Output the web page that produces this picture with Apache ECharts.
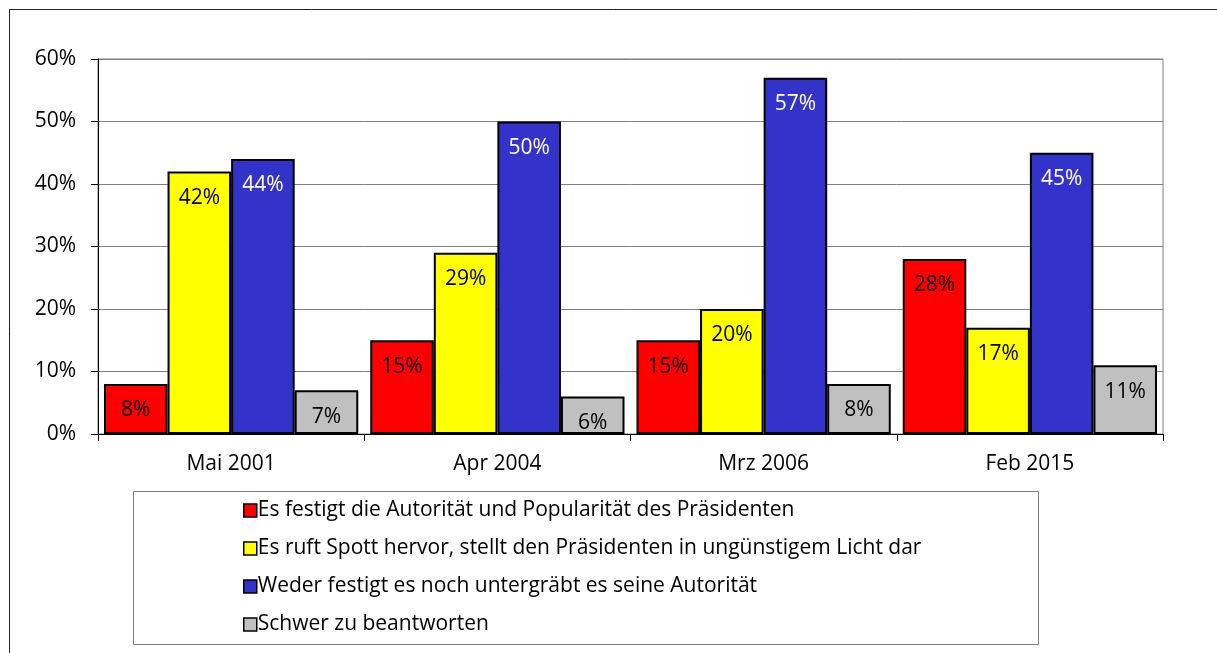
<!DOCTYPE html>
<html>
<head>
<meta charset="utf-8">
<script src="https://cdn.jsdelivr.net/npm/echarts@6/dist/echarts.min.js"></script>
<style>html,body{margin:0;padding:0;background:#fff}#c{width:1217px;height:653px}</style>
</head>
<body>
<div id="c"></div>
<script>
var categories = ['Mai 2001', 'Apr 2004', 'Mrz 2006', 'Feb 2015'];
var seriesNames = [
  'Es festigt die Autorität und Popularität des Präsidenten',
  'Es ruft Spott hervor, stellt den Präsidenten in ungünstigem Licht dar',
  'Weder festigt es noch untergräbt es seine Autorität',
  'Schwer zu beantworten'
];
var festigt = [8, 15, 15, 28];
var spott = [42, 29, 20, 17];
var weder = [44, 50, 57, 45];
var schwer = [7, 6, 8, 11];
var colors = ['#FF0000', '#FFFF00', '#3333CC', '#C0C0C0'];
var labelColors = ['#000', '#000', '#fff', '#000'];
var FONT = '"Open Sans", "Noto Sans", sans-serif';
var FS = 21;

var values = [festigt, spott, weder, schwer];
var series = values.map(function (v, i) {
  return {
    name: seriesNames[i],
    type: 'bar',
    data: v,
    barGap: 0,
    barCategoryGap: '4.5%',
    itemStyle: { color: colors[i], borderColor: '#000', borderWidth: 2 },
    label: {
      show: true, position: 'insideTop', distance: 16,
      formatter: '{c}%', color: labelColors[i], fontSize: FS, fontFamily: FONT
    }
  };
});

var chart = echarts.init(document.getElementById('c'), null, { renderer: 'canvas' });
chart.setOption({
  animation: false,
  backgroundColor: '#fff',
  color: colors,
  graphic: [
    { type: 'rect', left: 7, top: 7, shape: { width: 1215, height: 700 }, style: { fill: 'none', stroke: '#222', lineWidth: 1 }, z: -10 },
    { type: 'rect', left: 131, top: 489, shape: { width: 905, height: 153 }, style: { fill: 'none', stroke: '#808080', lineWidth: 1 }, z: -5 }
  ],
  grid: { left: 98, right: 54, top: 59, bottom: 219, show: true, borderColor: '#808080', borderWidth: 1 },
  legend: {
    orient: 'vertical', left: 238, top: 495, itemGap: 17,
    itemWidth: 13, itemHeight: 13,
    icon: 'rect',
    itemStyle: { borderColor: '#000', borderWidth: 1.5 },
    textStyle: { fontSize: FS, fontFamily: FONT, color: '#000', padding: [0, 0, 0, -4] },
    data: seriesNames
  },
  xAxis: {
    type: 'category', data: categories,
    axisLine: { lineStyle: { color: '#000', width: 1 } },
    axisTick: { show: true, length: 7, lineStyle: { color: '#000' } },
    axisLabel: { fontSize: FS, fontFamily: FONT, color: '#000', margin: 20 }
  },
  yAxis: {
    type: 'value', min: 0, max: 60, interval: 10,
    axisLine: { show: true, lineStyle: { color: '#000', width: 1 } },
    axisTick: { show: true, length: 7, lineStyle: { color: '#000' } },
    splitLine: { lineStyle: { color: '#808080', width: 1 } },
    axisLabel: { formatter: '{value}%', fontSize: FS, fontFamily: FONT, color: '#000', margin: 22 }
  },
  series: series
});
</script>
</body>
</html>
